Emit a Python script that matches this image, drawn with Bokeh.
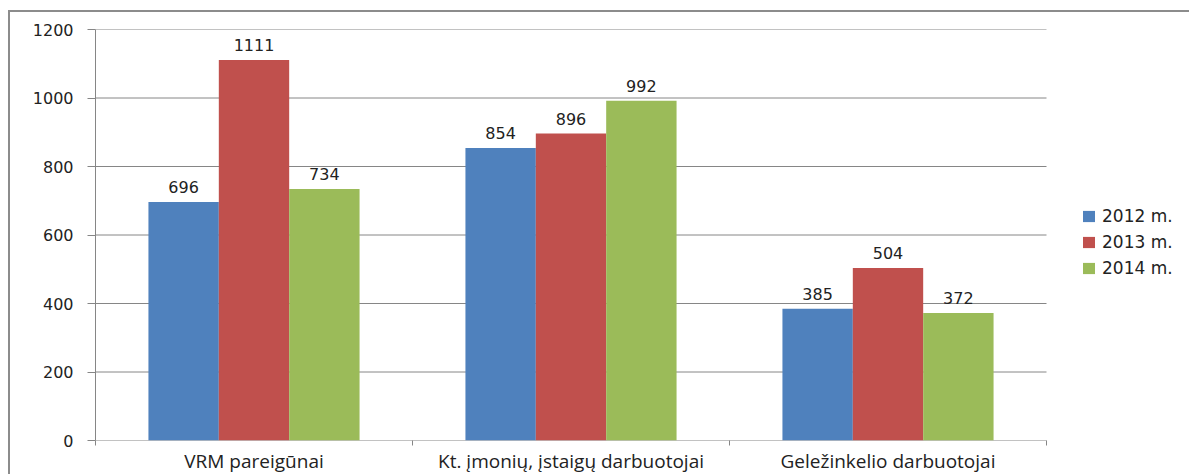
import numpy as np
from bokeh.plotting import figure
from bokeh.models import (ColumnDataSource, FixedTicker, Legend, LegendItem,
                          Range1d)
from bokeh.core.properties import value
from bokeh.embed import file_html
from bokeh.resources import INLINE

categories = ["VRM pareigūnai", "Kt. įmonių, įstaigų darbuotojai", "Geležinkelio darbuotojai"]
series = ["2012 m.", "2013 m.", "2014 m."]
values_2012 = [696, 854, 385]
values_2013 = [1111, 896, 504]
values_2014 = [734, 992, 372]
colors = ["#4F81BD", "#C0504D", "#9BBB59"]
y_ticks = [0, 200, 400, 600, 800, 1000, 1200]

FIG_W, FIG_H = 1181, 464
LEFT, TOP, BOTTOM = 85, 17, 34
PLOT_W = 951  # pixel width of the category area
n = len(categories)
x_end = n * (FIG_W - LEFT) / PLOT_W

p = figure(width=FIG_W, height=FIG_H, output_backend="svg", toolbar_location=None,
           x_range=Range1d(0, x_end), y_range=Range1d(0, 1200),
           min_border_left=LEFT, min_border_top=TOP, min_border_bottom=BOTTOM,
           min_border_right=0)
p.styles = {"border-top": "2px solid #8c8c8c", "border-left": "2px solid #8c8c8c",
            "margin-left": "8px", "margin-top": "10px"}
p.outline_line_color = None
p.background_fill_color = "white"
p.border_fill_color = "white"
p.xgrid.grid_line_color = None
p.ygrid.grid_line_color = None

# horizontal gridlines across the category area only
p.segment(x0=[0] * len(y_ticks), x1=[n] * len(y_ticks), y0=y_ticks, y1=y_ticks,
          line_color="#868686", line_width=1)

bar_w = 0.222
offsets = [-bar_w, 0.0, bar_w]
centers = np.arange(n) + 0.5
renderers = []
for vals, off, col, name in zip([values_2012, values_2013, values_2014], offsets, colors, series):
    src = ColumnDataSource(dict(x=centers + off, top=vals, lab=[str(v) for v in vals]))
    r = p.vbar(x="x", top="top", width=bar_w, bottom=0, source=src,
               fill_color=col, line_color=None)
    renderers.append(r)
    p.text(x="x", y="top", text="lab", source=src, text_align="center",
           text_baseline="bottom", y_offset=-9, text_font=value("DejaVu Sans"),
           text_font_size="16px", text_color="#222222")

# axes
p.yaxis.ticker = FixedTicker(ticks=y_ticks)
p.yaxis.axis_line_color = "#868686"
p.yaxis.major_tick_line_color = "#868686"
p.yaxis.major_tick_out = 8
p.yaxis.major_tick_in = 0
p.yaxis.minor_tick_line_color = None
p.yaxis.major_label_standoff = 14
p.yaxis.major_label_text_font = "DejaVu Sans"
p.yaxis.major_label_text_font_size = "16px"
p.yaxis.major_label_text_color = "#222222"

p.xaxis.ticker = FixedTicker(ticks=list(centers), minor_ticks=list(range(n + 1)))
p.xaxis.major_label_overrides = {float(c): cat for c, cat in zip(centers, categories)}
p.xaxis.axis_line_color = None
p.xaxis.major_tick_line_color = None
p.xaxis.major_tick_out = 0
p.xaxis.major_tick_in = 0
p.xaxis.minor_tick_line_color = "#868686"
p.xaxis.minor_tick_out = 5
p.xaxis.minor_tick_in = 0
p.xaxis.major_label_standoff = 2
p.xaxis.major_label_text_font = "Open Sans"
p.xaxis.major_label_text_font_size = "19px"
p.xaxis.major_label_text_color = "#222222"

legend = Legend(items=[LegendItem(label=s, renderers=[r]) for s, r in zip(series, renderers)],
                location=(PLOT_W + 35, 162), border_line_color=None, background_fill_alpha=0,
                label_text_font="DejaVu Sans", label_text_font_size="17px",
                label_text_color="#222222", glyph_width=15, glyph_height=14,
                spacing=6, label_standoff=6, margin=0, padding=5)
p.add_layout(legend)

open("out.html", "w").write(file_html(p, INLINE))
